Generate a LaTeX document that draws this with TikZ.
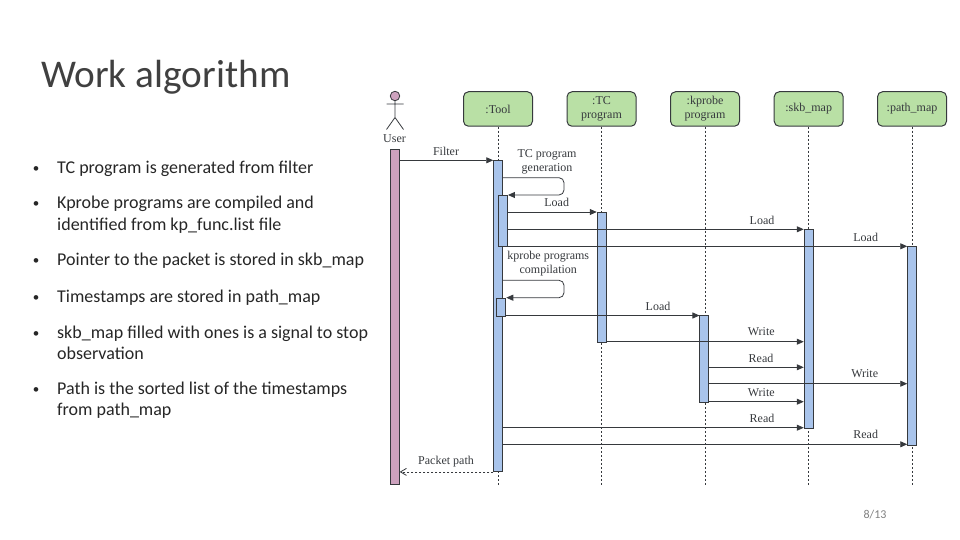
\documentclass[tikz,border=0pt]{standalone}
\usepackage{fontspec}
\setmainfont{Liberation Serif}
\newfontfamily\slidefont{Carlito}
\usetikzlibrary{arrows.meta}
\definecolor{headfill}{HTML}{B9E0A5}
\definecolor{barblue}{HTML}{A9C4EB}
\definecolor{barpink}{HTML}{CDA2BE}
\definecolor{ink}{HTML}{36393D}
\definecolor{slidetext}{HTML}{262626}
\tikzset{
  x=1pt,y=-1pt,
  head/.style={draw=ink,line width=1pt,fill=headfill,rounded corners=5pt,minimum width=69pt,minimum height=34.5pt,inner sep=0pt,align=center,font=\fontsize{12}{14}\selectfont,text=ink},
  life/.style={draw=ink,line width=0.9pt,dash pattern=on 2pt off 2pt},
  actv/.style={draw=ink,line width=0.9pt,fill=barblue,minimum width=9pt,inner sep=0pt,anchor=north},
  actp/.style={actv,fill=barpink},
  msg/.style={draw=ink,line width=0.8pt,-{Triangle[length=7pt,width=6pt]}},
  ret/.style={draw=ink,line width=0.8pt,dash pattern=on 2pt off 2pt,-{Straight Barb[length=6pt,width=7pt]}},
  lbl/.style={font=\fontsize{12}{13.8}\selectfont,text=ink,inner sep=0pt,align=center},
  item/.style={font=\slidefont\fontsize{18}{21.7}\selectfont,text=slidetext,inner sep=0pt,anchor=north west,align=left},
  dot/.style={font=\slidefont\fontsize{13}{15}\selectfont,text=slidetext,inner sep=0pt},
}
\begin{document}
\begin{tikzpicture}
\useasboundingbox (0,0) rectangle (960,540);
% slide text
\node[font=\slidefont\fontsize{39.3}{44}\selectfont,text=black!75,inner sep=0pt,anchor=west] (title) at (41,77) {Work algorithm};
\foreach \n/\y/\t in {a/160.5/{TC program is generated from filter},
  b/196/{Kprobe programs are compiled and\\identified from kp\_func.list file},
  c/253/{Pointer to the packet is stored in skb\_map},
  d/289.5/{Timestamps are stored in path\_map},
  e/325.5/{skb\_map filled with ones is a signal to stop\\observation},
  f/381.5/{Path is the sorted list of the timestamps\\from path\_map}}{
  \node[item] (\n) at (57,\y) {\t};
  \node[dot,anchor=center] (dot\n) at (36,\y+9) {•};
}
\node[font=\slidefont\fontsize{12}{14}\selectfont,text=gray,inner sep=0pt] (page) at (875,515) {8/13};
% heads
\node[head] (tool) at (498,109) {:Tool};
\node[head] (tc) at (601.5,109) {:TC\\program};
\node[head] (kp) at (705,109) {:kprobe\\program};
\node[head] (skb) at (808.7,109) {:skb\_map};
\node[head] (path) at (912,109) {:path\_map};
% lifelines
\foreach \h in {tool,tc,kp,skb,path}{
  \coordinate (\h end) at (\h.south |- 0,486);
  \draw[life] (\h.south) -- (\h end);
}
% user actor
\node[circle,draw=ink,line width=0.8pt,fill=barpink,minimum size=9.5pt,inner sep=0pt] (uhead) at (395,96) {};
\coordinate (uhip) at (395,117.5);
\coordinate (uarmL) at (386.5,104);
\coordinate (uarmR) at (403.5,104);
\coordinate (ulegL) at (386.5,129.5);
\coordinate (ulegR) at (403.5,129.5);
\draw[draw=ink,line width=0.8pt] (uhead.south) -- (uhip) (uarmL) -- (uarmR) (ulegL) -- (uhip) -- (ulegR);
\node[lbl] (ulabel) at (394.5,139) {User};
% activation bars
\node[actp,minimum height=335pt] (ubar) at (394.7,149) {};
\node[actv,minimum height=310.7pt] (toolbar) at (498.2,160.3) {};
\node[actv,minimum height=51.3pt] (toolload) at (503,195) {};
\node[actv,minimum height=18pt] (toolcomp) at (501.3,297.7) {};
\node[actv,minimum height=129.7pt] (tcbar) at (601.7,212) {};
\node[actv,minimum height=86.4pt] (kpbar) at (704.4,315.3) {};
\node[actv,minimum height=198.4pt] (skbbar) at (808.7,229.3) {};
\node[actv,minimum height=198.7pt] (pathbar) at (912.2,246.3) {};
% messages
\draw[msg] (ubar.east |- 0,160.3) -- (toolbar.west |- 0,160.3);
\node[lbl] at (446,151) {Filter};
\draw[msg,rounded corners=5pt] (toolbar.east |- 0,177.7) -- (564,177.7) -- (564,195) -- (toolload.east |- 0,195);
\node[lbl] at (547,161.8) {TC program\\generation};
\draw[msg] (toolload.east |- 0,212) -- (tcbar.west |- 0,212);
\node[lbl] at (556.7,202.7) {Load};
\draw[msg] (toolload.east |- 0,229.3) -- (skbbar.west |- 0,229.3);
\node[lbl] at (762,220) {Load};
\draw[msg] (toolload.east |- 0,246.3) -- (pathbar.west |- 0,246.3);
\node[lbl] at (865.7,237) {Load};
\node[lbl] at (548.3,264) {kprobe programs\\compilation};
\draw[msg,rounded corners=5pt] (toolbar.east |- 0,280.3) -- (564,280.3) -- (564,297.7) -- (toolcomp.east |- 0,297.7);
\draw[msg] (toolcomp.east |- 0,315.5) -- (kpbar.west |- 0,315.5);
\node[lbl] at (658,306) {Load};
\draw[msg] (tcbar.east |- 0,341.7) -- (skbbar.west |- 0,341.7);
\node[lbl] at (761.3,331.7) {Write};
\draw[msg] (kpbar.east |- 0,367.3) -- (skbbar.west |- 0,367.3);
\node[lbl] at (761,358) {Read};
\draw[msg] (kpbar.east |- 0,383.7) -- (pathbar.west |- 0,383.7);
\node[lbl] at (864.7,374) {Write};
\draw[msg] (kpbar.east |- 0,401.7) -- (skbbar.west |- 0,401.7);
\node[lbl] at (761.3,392.3) {Write};
\draw[msg] (toolbar.east |- 0,427.7) -- (skbbar.west |- 0,427.7);
\node[lbl] at (762,418) {Read};
\draw[msg] (toolbar.east |- 0,444.3) -- (pathbar.west |- 0,444.3);
\node[lbl] at (865.7,434.7) {Read};
\draw[ret] (toolbar.south west) -- (ubar.east |- toolbar.south west);
\node[lbl] at (446,461.7) {Packet path};
\end{tikzpicture}
\end{document}
